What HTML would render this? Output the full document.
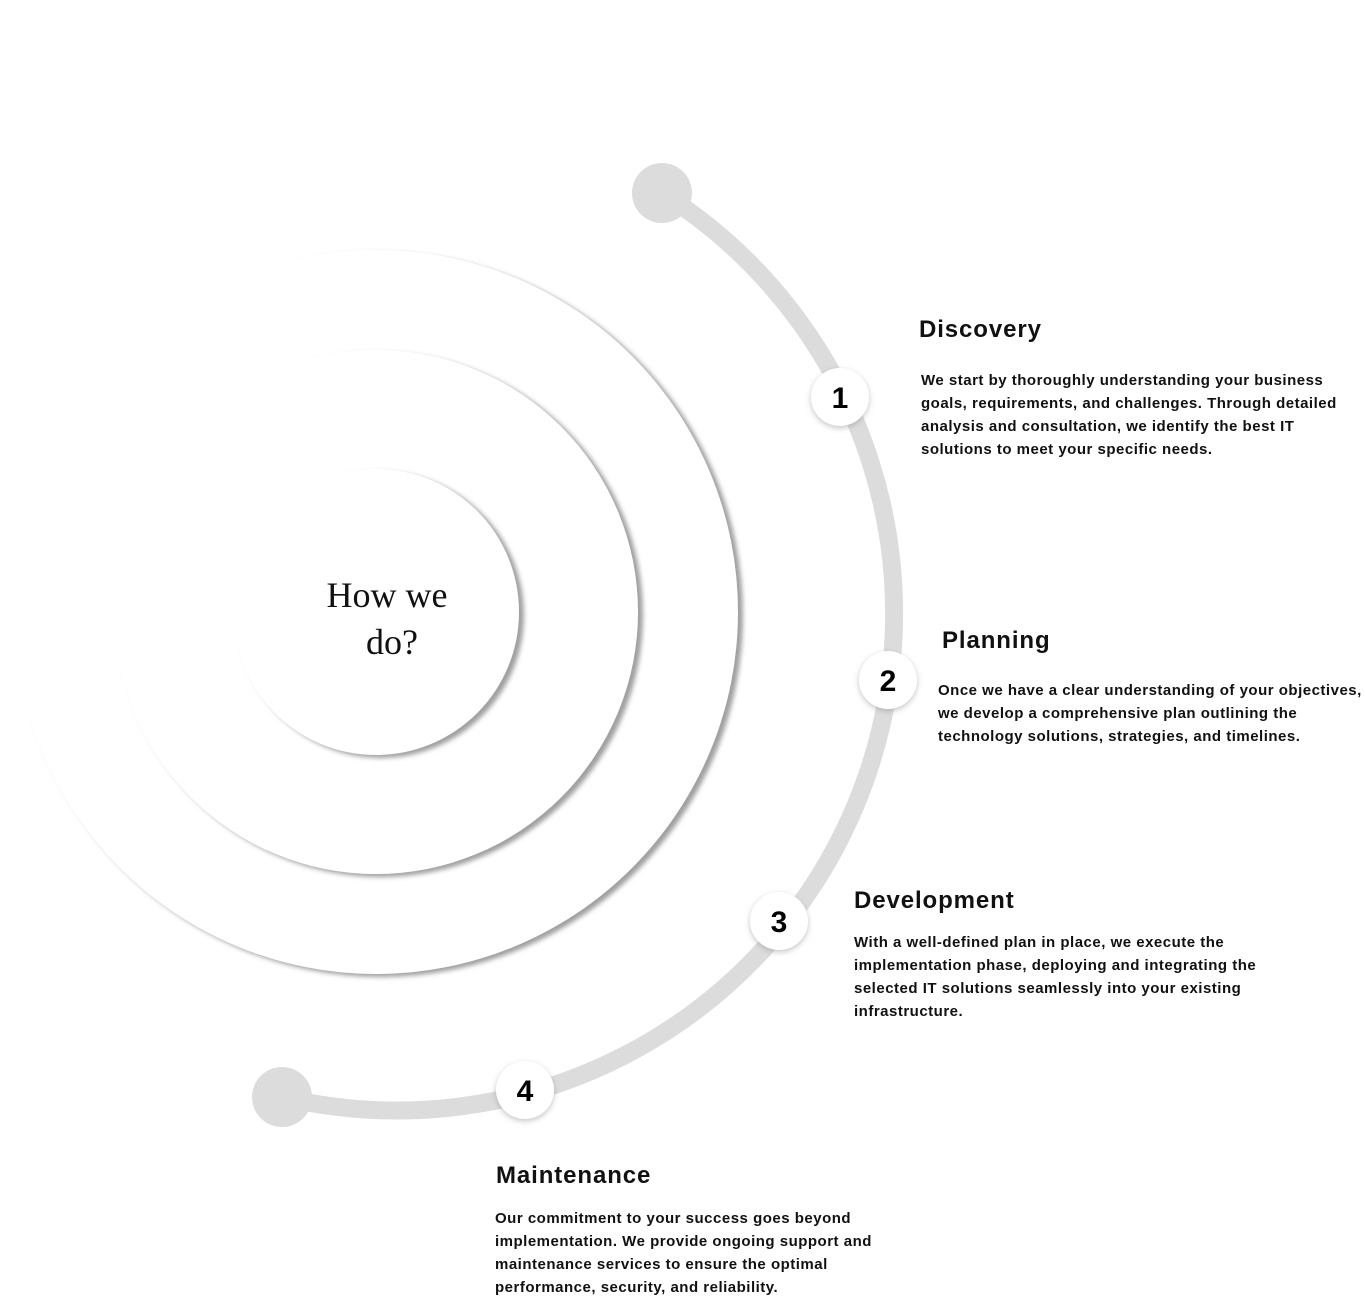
<!DOCTYPE html>
<html><head><meta charset="utf-8"><style>
html,body{margin:0;padding:0;background:#fff;width:1365px;height:1297px;overflow:hidden;font-family:"Liberation Sans",sans-serif}
.blk{position:absolute;color:#111;white-space:nowrap}
.blk h3{margin:0;font-size:24px;font-weight:bold;letter-spacing:0.9px}
.blk p{margin:0;font-size:15px;font-weight:bold;line-height:23px;letter-spacing:0.5px}
</style></head><body>
<svg width="1365" height="1297" style="position:absolute;left:0;top:0">
<defs>
<filter id="sh" x="-20%" y="-20%" width="140%" height="140%"><feDropShadow dx="5" dy="3" stdDeviation="2.5" flood-color="#888" flood-opacity="0.8"/></filter>
<filter id="sh2" x="-50%" y="-50%" width="200%" height="200%"><feDropShadow dx="0" dy="2" stdDeviation="3" flood-color="#888" flood-opacity="0.5"/></filter>
</defs>
<circle cx="376" cy="612" r="362" fill="#fff" filter="url(#sh)"/>
<circle cx="376" cy="612" r="262" fill="#fff" filter="url(#sh)"/>
<circle cx="376" cy="612" r="143" fill="#fff" filter="url(#sh)"/>
<text x="387" y="607" text-anchor="middle" font-family="Liberation Serif, serif" font-size="36" fill="#111">How we</text>
<text x="392" y="654" text-anchor="middle" font-family="Liberation Serif, serif" font-size="36" fill="#111">do?</text>
<path d="M 662 193 A 497 497 0 0 1 282 1097" fill="none" stroke="#dcdcdc" stroke-width="18"/>
<circle cx="662" cy="193" r="30" fill="#dcdcdc"/>
<circle cx="282" cy="1097" r="30" fill="#dcdcdc"/>
<g font-family="Liberation Sans, sans-serif" font-weight="bold" font-size="30" text-anchor="middle" fill="#000">
<circle cx="840" cy="397" r="29" fill="#fff" filter="url(#sh2)"/><text x="840" y="408">1</text>
<circle cx="888" cy="680" r="29" fill="#fff" filter="url(#sh2)"/><text x="888" y="691">2</text>
<circle cx="779" cy="921" r="29" fill="#fff" filter="url(#sh2)"/><text x="779" y="932">3</text>
<circle cx="525" cy="1090" r="29" fill="#fff" filter="url(#sh2)"/><text x="525" y="1101">4</text>
</g>
</svg>
<div class="blk" style="left:919px;top:316px">
<h3>Discovery</h3>
<p style="margin-top:25px;margin-left:2px">We start by thoroughly understanding your business<br>goals, requirements, and challenges. Through detailed<br>analysis and consultation, we identify the best IT<br>solutions to meet your specific needs.</p></div>
<div class="blk" style="left:942px;top:627px">
<h3>Planning</h3>
<p style="margin-top:24px;margin-left:-4px">Once we have a clear understanding of your objectives,<br>we develop a comprehensive plan outlining the<br>technology solutions, strategies, and timelines.</p></div>
<div class="blk" style="left:854px;top:887px">
<h3>Development</h3>
<p style="margin-top:16px">With a well-defined plan in place, we execute the<br>implementation phase, deploying and integrating the<br>selected IT solutions seamlessly into your existing<br>infrastructure.</p></div>
<div class="blk" style="left:496px;top:1162px">
<h3>Maintenance</h3>
<p style="margin-top:17px;margin-left:-1px">Our commitment to your success goes beyond<br>implementation. We provide ongoing support and<br>maintenance services to ensure the optimal<br>performance, security, and reliability.</p></div>
</body></html>
